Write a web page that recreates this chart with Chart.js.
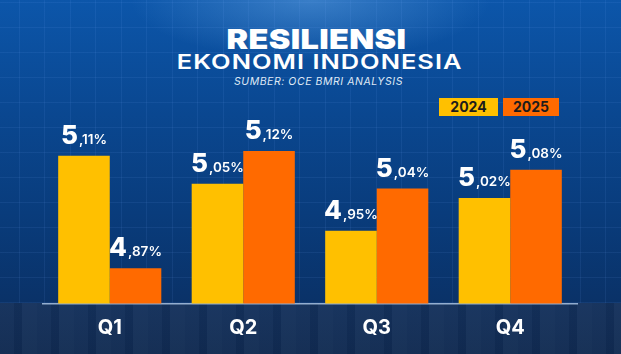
<!DOCTYPE html>
<html>
<head>
<meta charset="utf-8">
<script src="https://cdn.jsdelivr.net/npm/chart.js@4.4.1/dist/chart.umd.min.js"></script>
<style>
  html, body { margin: 0; padding: 0; }
  body {
    width: 621px; height: 354px; overflow: hidden; position: relative;
    font-family: Inter, "Open Sans", sans-serif;
    background:
      radial-gradient(ellipse 180px 60px at 50% 0%, rgba(140, 200, 255, 0.35), rgba(140, 200, 255, 0) 100%),
      linear-gradient(to bottom, #0c56aa 0%, #0a4892 30%, #093c7c 60%, #0a3268 85%, #0b2c5a 100%);
  }
  .grid {
    position: absolute; left: 0; top: 0; width: 621px; height: 303px;
    background:
      repeating-linear-gradient(to right, transparent 0 19px, rgba(120, 170, 255, 0.09) 19px 20px, transparent 20px 25.5px),
      repeating-linear-gradient(to bottom, transparent 0 2px, rgba(120, 170, 255, 0.09) 2px 3px, transparent 3px 25px);
  }
  .ground {
    position: absolute; left: 0; top: 303px; width: 621px; height: 51px;
    background:
      repeating-linear-gradient(to right, rgba(255,255,255,0.02) 0 14px, rgba(0,0,0,0.04) 14px 22px, rgba(255,255,255,0.03) 22px 37px),
      linear-gradient(to bottom, #14315c 0%, #112b52 100%);
  }
  canvas { position: absolute; left: 0; top: 0; }
  .t1 {
    position: absolute; left: 0; width: 633px; top: 22px; text-align: center;
    color: #fff; font-weight: 900; font-size: 27.5px; letter-spacing: 0.3px; line-height: 34px;
    transform: scaleX(1.18); transform-origin: 317px 0;
  }
  .t2 {
    position: absolute; left: 0; width: 639px; top: 50px; text-align: center;
    color: #fff; font-weight: 600; font-size: 20px; letter-spacing: 0.8px; line-height: 24px;
    transform: scaleX(1.27); transform-origin: 319px 0;
  }
  .t3 {
    position: absolute; left: 0; width: 637px; top: 76px; text-align: center;
    color: #dfe8f5; font-style: italic; font-weight: 400; font-size: 10.5px; letter-spacing: 0.55px; line-height: 12px;
  }
  .key {
    position: absolute; top: 98px; height: 18px; line-height: 18px; text-align: center;
    font-weight: 700; font-size: 14px; color: #1c1c1c;
  }
</style>
</head>
<body>
<div class="grid"></div>
<div class="ground"></div>
<div class="t1">RESILIENSI</div>
<div class="t2">EKONOMI INDONESIA</div>
<div class="t3">SUMBER: OCE BMRI ANALYSIS</div>
<div class="key" id="key0" style="left:439px;width:59px;"></div>
<div class="key" id="key1" style="left:503px;width:56px;"></div>
<canvas id="myChart" width="621" height="354"></canvas>
<script>
// data
const quarters = ['Q1', 'Q2', 'Q3', 'Q4'];
const seriesNames = ['2024', '2025'];
const values2024 = [5.11, 5.05, 4.95, 5.02];
const values2025 = [4.87, 5.12, 5.04, 5.08];
const seriesColors = ['#FFC000', '#FF6A00'];

// legend boxes
seriesNames.forEach((name, i) => {
    const el = document.getElementById('key' + i);
    el.textContent = name;
    el.style.background = seriesColors[i];
});

// value labels: big integer part + small ",xx%"
const valueLabels = {
    id: 'valueLabels',
    afterDatasetsDraw(chart) {
        const ctx = chart.ctx;
        ctx.save();
        ctx.fillStyle = '#ffffff';
        ctx.textBaseline = 'alphabetic';
        ctx.textAlign = 'left';
        chart.data.datasets.forEach((ds, di) => {
            const meta = chart.getDatasetMeta(di);
            meta.data.forEach((bar, i) => {
                const parts = ds.data[i].toFixed(2).split('.');
                const big = parts[0];
                const small = ',' + parts[1] + '%';
                ctx.font = '800 26px Inter';
                const wBig = ctx.measureText(big).width;
                ctx.font = '600 13.5px Inter';
                const wSmall = ctx.measureText(small).width;
                const x0 = bar.x - (wBig + wSmall + 1) / 2;
                const y = bar.y - 12;
                ctx.font = '800 26px Inter';
                ctx.fillText(big, x0, y);
                ctx.font = '600 13.5px Inter';
                ctx.fillText(small, x0 + wBig + 1, y);
            });
        });
        ctx.restore();
    }
};

const data = {
    labels: quarters,
    datasets: [{
        label: seriesNames[0],
        data: values2024,
        backgroundColor: seriesColors[0],
        borderWidth: 0,
    }, {
        label: seriesNames[1],
        data: values2025,
        backgroundColor: seriesColors[1],
        borderWidth: 0,
    }]
};

const config = {
    type: 'bar',
    data: data,
    options: {
        responsive: false,
        devicePixelRatio: 1,
        animation: false,
        categoryPercentage: 0.7725,
        barPercentage: 1,
        layout: {
            padding: { top: 94.7, left: 43, right: 44, bottom: 2.5 }
        },
        plugins: {
            legend: { display: false },
            tooltip: { enabled: false }
        },
        scales: {
            x: {
                grid: { display: false, drawTicks: false },
                border: { display: true, color: 'rgba(190, 215, 245, 0.75)', width: 1.5 },
                ticks: {
                    color: '#ffffff',
                    font: { family: 'Inter', size: 20, weight: '700' },
                    padding: 12
                }
            },
            y: {
                display: false,
                min: 4.795,
                max: 5.24
            }
        }
    },
    plugins: [valueLabels]
};

const myChart = new Chart(document.getElementById('myChart'), config);
</script>
</body>
</html>
